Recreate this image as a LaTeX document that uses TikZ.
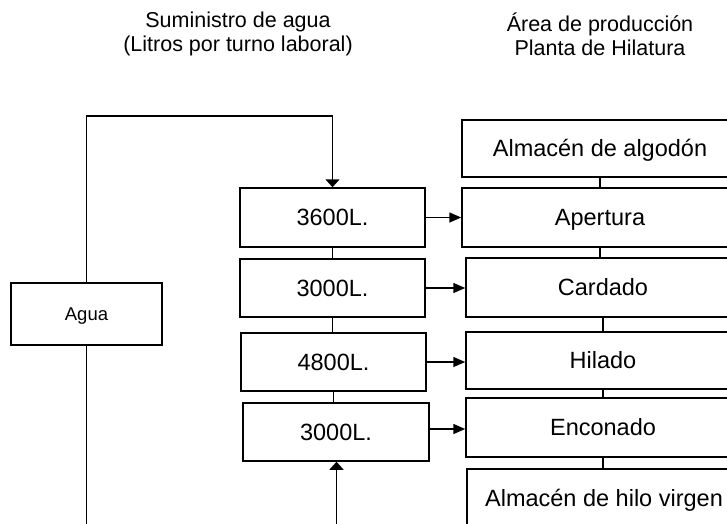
\documentclass[tikz,border=0pt]{standalone}
\usepackage{fontspec}
\setmainfont{Liberation Sans}
\usetikzlibrary{arrows.meta,calc}
\begin{document}
\begin{tikzpicture}[x=1pt,y=-1pt,line width=1.5pt,
  box/.style={draw,line width=1.5pt,inner sep=0pt,text height=16.8pt,text depth=0pt,font=\fontsize{23.5}{26}\selectfont},
  titletext/.style={align=center,inner sep=0pt,font=\fontsize{21.5}{24}\selectfont},
  varr/.style={-{Triangle[length=8pt,width=14pt]}},
  harr/.style={-{Triangle[length=12pt,width=10pt]}}]
\useasboundingbox (0,0) rectangle (727,523);
\clip (0,0) rectangle (727,523);
% titles
\node[titletext] (t1) at (238,34) {Suministro de agua\\(Litros por turno laboral)};
\node[titletext] (t2) at (600,34) {Área de producción\\Planta de Hilatura};
% water source
\node[box,minimum width=151pt,minimum height=62pt,text height=13.2pt,font=\fontsize{18.5}{20}\selectfont] (agua) at (86.5,314) {Agua};
% supply boxes
\node[box,minimum width=185pt,minimum height=59pt] (L1) at (332.5,217.5) {3600L.};
\node[box,minimum width=185pt,minimum height=58pt] (L2) at (332.5,288) {3000L.};
\node[box,minimum width=185pt,minimum height=58pt] (L3) at (333.5,362) {4800L.};
\node[box,minimum width=186pt,minimum height=58pt] (L4) at (336,432) {3000L.};
% production boxes
\node[box,minimum width=276pt,minimum height=57pt] (R0) at (600,148.5) {Almacén de algodón};
\node[box,minimum width=276pt,minimum height=59pt] (R1) at (600,217.5) {Apertura};
\node[box,minimum width=274pt,minimum height=59pt] (R2) at (603,287.5) {Cardado};
\node[box,minimum width=274pt,minimum height=57pt] (R3) at (603,360.5) {Hilado};
\node[box,minimum width=274pt,minimum height=59pt] (R4) at (603,427.5) {Enconado};
\node[box,minimum width=274pt,minimum height=59pt] (R5) at (604,498.5) {Almacén de hilo virgen};
% helper coordinates
\coordinate (topline) at (0,116);
\coordinate (aguaend) at (86.5,530);
\coordinate (inflow) at (336.5,530);
% water loop
\draw[varr] (agua.north) -- (agua.north |- topline) -- (L1.north |- topline) -- (L1.north);
\draw (agua.south) -- (aguaend);
\draw[varr] (inflow) -- (inflow |- L4.south);
% supply chain
\draw (L1.south) -- (L1.south |- L2.north);
\draw (L2.south) -- (L2.south |- L3.north);
\draw (L3.south) -- (L3.south |- L4.north);
% production chain
\draw (R0.south) -- (R0.south |- R1.north);
\draw (R1.south) -- (R1.south |- R2.north);
\draw (R2.south) -- (R2.south |- R3.north);
\draw (R3.south) -- (R3.south |- R4.north);
\draw (R4.south) -- (R4.south |- R5.north);
% supply arrows
\draw[harr] (L1.east) -- (L1.east -| R1.west);
\draw[harr] (L2.east) -- (L2.east -| R2.west);
\draw[harr] (L3.east) -- (L3.east -| R3.west);
\draw[harr] ([yshift=3pt]L4.east) -- ([yshift=3pt]L4.east -| R4.west);
\end{tikzpicture}
\end{document}
